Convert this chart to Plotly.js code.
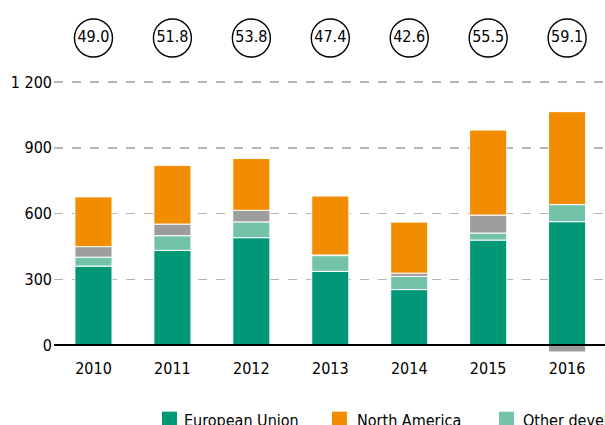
<!DOCTYPE html>
<html>
<head>
<meta charset="utf-8">
<script src="https://cdn.plot.ly/plotly-3.0.1.min.js"></script>
<style>
html,body{margin:0;padding:0;overflow:hidden;background:#fff;}
#chart{width:605px;height:425px;}
</style>
</head>
<body>
<div id="chart"></div>
<script>
const years = ["2010","2011","2012","2013","2014","2015","2016"];
const europeanUnion = [360, 432, 490, 336, 253, 479, 563];
const otherDeveloped = [41, 67, 72, 72, 60, 32, 78];
const otherEconomies = [48, 53, 53, 3, 15, 82, -32];
const northAmerica = [227, 268, 236, 269, 233, 388, 424];
const circleValues = ["49.0","51.8","53.8","47.4","42.6","55.5","59.1"];
const yTickVals = [0, 300, 600, 900, 1200];
const yTickText = ["0", "300", "600", "900", "1 200"];

const legendNames = ["European Union", "North America", "Other developed economies"];

const C_EU = "#009877", C_NA = "#F28C00", C_OD = "#72C3AA", C_OT = "#9D9D9C";
const FONT = "DejaVu Sans Condensed, sans-serif";

function bar(name, y, color) {
  return {
    type: "bar", name: name, x: years, y: y,
    marker: {color: color, line: {color: "#ffffff", width: 1}},
    hoverinfo: "x+y+name"
  };
}

const traces = [
  bar("European Union", europeanUnion, C_EU),
  bar("Other developed economies", otherDeveloped, C_OD),
  bar("Other", otherEconomies, C_OT),
  bar("North America", northAmerica, C_NA),
  {
    type: "scatter", mode: "markers+text", x: years,
    y: years.map(() => 0.5), yaxis: "y2",
    text: circleValues, textposition: "middle center",
    textfont: {family: FONT, size: 16, color: "#000"},
    marker: {symbol: "circle-open", size: 38, color: "#000", line: {width: 1.4, color: "#000"}},
    cliponaxis: false, hoverinfo: "text", showlegend: false
  }
];

const shapes = [];
const annotations = [];

// zero line on top
shapes.push({
  type: "line", xref: "paper", yref: "y", x0: 0, x1: 1, y0: 0, y1: 0,
  line: {color: "#000", width: 2}, layer: "above"
});

// manual legend (cut off at right edge, as in the reference)
const legendColors = [C_EU, C_NA, C_OD];
const legSqX = [0.196, 0.5045, 0.8076];
const legTxtX = [0.2325, 0.5465, 0.848];
legendNames.forEach((nm, i) => {
  shapes.push({
    type: "rect", xref: "paper", yref: "paper",
    x0: legSqX[i], x1: legSqX[i] + 0.0272, y0: -0.171, y1: -0.215,
    line: {width: 0}, fillcolor: legendColors[i]
  });
  annotations.push({
    xref: "paper", yref: "paper", x: legTxtX[i], y: -0.162,
    text: nm, showarrow: false, xanchor: "left", yanchor: "top",
    font: {family: FONT, size: 16, color: "#000"}
  });
});

const layout = {
  width: 605, height: 425,
  margin: {l: 54, r: 0, t: 10, b: 72, autoexpand: false},
  paper_bgcolor: "#fff", plot_bgcolor: "#fff",
  barmode: "relative", bargap: 0.53,
  showlegend: false,
  font: {family: FONT, size: 16, color: "#000"},
  xaxis: {
    type: "category", range: [-0.5, 6.48],
    showgrid: false, zeroline: false, showline: false, ticks: "",
    ticklabelstandoff: 4,
    tickfont: {family: FONT, size: 16, color: "#000"}
  },
  yaxis: {
    domain: [0, 0.83],
    range: [-36.5, 1263], tickvals: yTickVals, ticktext: yTickText,
    showgrid: true, gridcolor: "#b4b4b4", gridwidth: 1.5, griddash: "dash",
    zeroline: false, showline: false, ticks: "",
    ticklabelstandoff: 1,
    tickfont: {family: FONT, size: 16, color: "#000"}
  },
  yaxis2: {
    domain: [0.8367, 1], range: [0, 1], anchor: "x",
    visible: false, showgrid: false, zeroline: false
  },
  shapes: shapes,
  annotations: annotations
};

Plotly.newPlot("chart", traces, layout, {displayModeBar: false, staticPlot: true});
</script>
</body>
</html>
